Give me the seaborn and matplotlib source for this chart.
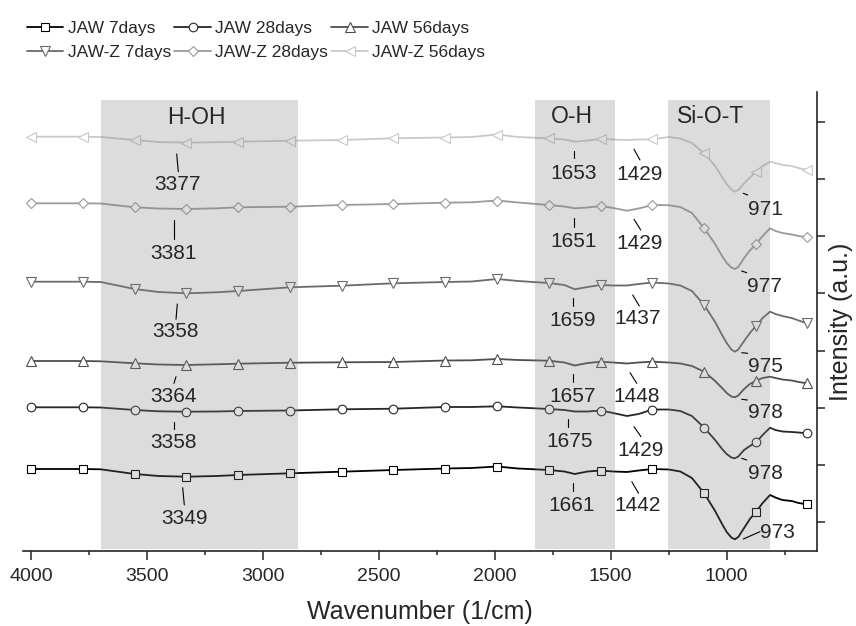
import numpy as np
import pandas as pd
import matplotlib
matplotlib.use("Agg")
import matplotlib.pyplot as plt
from matplotlib.lines import Line2D
import seaborn as sns

# ---------------- data ----------------
wavenumber = [4000, 3777, 3700, 3553, 3450, 3330, 3200, 3107, 2883, 2660, 2437, 2213,
              2100, 1990, 1900, 1767, 1700, 1655, 1600, 1543, 1490, 1430, 1380, 1320,
              1250, 1200, 1150, 1097, 1050, 1020, 1000, 980, 965, 950, 925, 900, 873,
              845, 813, 790, 760, 720, 690, 654]

jaw_7 = [157.0, 157.0, 156.7, 152.0, 150.0, 149.3, 150.0, 151.0, 152.7, 154.3, 156.0, 157.5,
         158.0, 159.5, 157.5, 156.0, 154.5, 152.0, 154.5, 155.5, 154.5, 154.0, 155.5, 157.0,
         156.5, 154.5, 148.0, 132.7, 115.0, 102.0, 94.0, 88.5, 86.7, 89.0, 98.0, 107.0, 114.3,
         123.0, 131.0, 128.5, 126.0, 125.0, 123.0, 121.7]
jaw_28 = [218.7, 218.7, 218.5, 216.0, 214.7, 214.3, 214.5, 215.0, 215.5, 216.7, 217.3, 219.0,
          219.0, 219.7, 218.5, 217.0, 216.0, 214.5, 214.5, 215.5, 213.0, 210.0, 212.0, 216.5,
          216.5, 215.0, 210.0, 198.3, 186.0, 177.0, 172.0, 168.5, 167.7, 169.5, 176.0, 180.0, 183.7,
          191.0, 198.3, 196.0, 194.5, 194.0, 193.5, 192.7]
jaw_56 = [265.0, 265.0, 264.7, 262.7, 261.5, 261.0, 261.7, 262.3, 263.3, 263.7, 264.0, 265.5,
          265.7, 267.0, 266.0, 265.3, 263.5, 260.5, 263.0, 264.3, 263.5, 262.5, 263.5, 264.3,
          263.5, 262.5, 260.0, 254.3, 245.0, 238.0, 233.0, 229.5, 228.7, 230.5, 237.0, 242.0, 245.3,
          248.0, 249.3, 248.0, 246.5, 245.5, 244.0, 242.7]
jawz_7 = [344.3, 344.3, 344.0, 337.0, 334.0, 332.7, 333.7, 335.0, 338.7, 340.3, 342.7, 344.0,
          344.5, 347.0, 345.0, 343.0, 341.0, 336.7, 339.0, 341.0, 340.5, 340.5, 342.0, 343.5,
          342.5, 340.5, 335.0, 321.0, 304.0, 291.0, 283.0, 276.5, 274.3, 276.5, 285.0, 293.0, 300.3,
          308.0, 314.3, 312.0, 310.0, 308.0, 305.5, 302.7]
jawz_28 = [422.7, 422.7, 422.5, 418.7, 417.5, 417.0, 417.7, 418.7, 419.3, 421.0, 422.0, 423.3,
           423.7, 425.5, 423.5, 421.0, 419.5, 417.7, 418.5, 420.0, 418.0, 415.3, 417.5, 421.0,
           420.8, 419.0, 413.0, 397.7, 382.0, 370.0, 363.0, 358.5, 357.0, 359.0, 368.0, 375.5, 382.0,
           390.0, 397.7, 395.0, 393.0, 391.5, 390.0, 388.7]
jawz_56 = [489.3, 489.3, 489.0, 486.0, 484.0, 483.3, 483.8, 484.3, 485.3, 486.0, 487.7, 488.5,
           489.0, 491.5, 489.0, 487.7, 486.5, 484.3, 485.5, 487.0, 486.5, 486.0, 486.5, 486.7,
           489.0, 487.5, 483.0, 472.7, 460.0, 449.0, 442.0, 436.5, 434.3, 436.0, 442.5, 448.5, 454.3,
           460.0, 464.3, 463.0, 461.0, 460.0, 458.0, 456.0]

series_names = ["JAW 7days", "JAW 28days", "JAW 56days",
                "JAW-Z 7days", "JAW-Z 28days", "JAW-Z 56days"]
series_values = [jaw_7, jaw_28, jaw_56, jawz_7, jawz_28, jawz_56]

peak_labels = [
    ["3349", "1661", "1442", "973"],
    ["3358", "1675", "1429", "978"],
    ["3364", "1657", "1448", "978"],
    ["3358", "1659", "1437", "975"],
    ["3381", "1651", "1429", "977"],
    ["3377", "1653", "1429", "971"],
]

band_names = ["H-OH", "O-H", "Si-O-T"]
band_ranges = [(3700, 2850), (1825, 1480), (1255, 815)]

x_ticks = [4000, 3500, 3000, 2500, 2000, 1500, 1000]

# ---------------- layout / style ----------------
colors = ["#000000", "#262626", "#4e4e4e", "#6a6a6a", "#9a9a9a", "#c9c9c9"]
markers = ["s", "o", "^", "v", "D", "<"]
msizes = [5.5, 6.2, 7.0, 7.0, 5.2, 7.0]

# text position (x, baseline y) and leader segment (x1, y1, x2, y2) per label
label_layout = [
    [((3336, 102.5), (3345.8, 138.3, 3338.9, 121.0)),
     ((1668, 115.2), (1664.1, 143.3, 1664.1, 135.3)),
     ((1385, 115.2), (1409.2, 144.3, 1380.3, 132.7)),
     ((782, 87.8), (928.4, 87.0, 856.4, 94.3))],
    [((3386, 177.8), (3383.4, 204.3, 3383.4, 196.7)),
     ((1679, 179.2), (1683.1, 206.7, 1683.1, 198.7)),
     ((1371, 170.2), (1399.7, 199.3, 1369.6, 189.3)),
     ((835, 146.8), (935.3, 167.7, 913.8, 166.0))],
    [((3386, 223.5), (3374.7, 249.3, 3383.4, 242.7)),
     ((1664, 224.2), (1661.5, 251.7, 1661.5, 243.7)),
     ((1388, 224.2), (1417.0, 253.3, 1388.1, 242.7)),
     ((835, 207.8), (935.3, 226.7, 911.2, 226.0))],
    [((3375, 289.2), (3369.1, 322.0, 3374.7, 306.7)),
     ((1664, 300.2), (1661.5, 327.7, 1661.5, 320.0)),
     ((1385, 301.8), (1405.3, 331.0, 1376.8, 320.0)),
     ((835, 253.5), (935.3, 273.3, 909.4, 272.7))],
    [((3386, 366.8), (3383.4, 406.0, 3383.4, 386.7)),
     ((1661, 379.5), (1657.2, 407.7, 1657.2, 399.3)),
     ((1374, 376.8), (1399.7, 406.7, 1370.9, 396.0)),
     ((838, 334.5), (935.3, 355.0, 913.8, 353.3))],
    [((3367, 435.8), (3371.7, 472.0, 3364.8, 454.3)),
     ((1661, 446.8), (1657.2, 475.0, 1657.2, 467.7)),
     ((1374, 445.8), (1399.7, 476.7, 1373.9, 466.0)),
     ((835, 411.2), (928.4, 432.7, 909.4, 431.0))],
]
band_label_pos = [(3288, 501.7), (1668, 502.7), (1069, 502.7)]

sns.set_style("white")
plt.rcParams["font.family"] = ["Liberation Sans", "DejaVu Sans"]
plt.rcParams["axes.linewidth"] = 1.2

W, H = 856, 626
fig = plt.figure(figsize=(W / 100, H / 100), dpi=100)
ax = fig.add_axes([23 / W, 75.3 / H, 793.7 / W, 458.7 / H])

x_arr = np.array(wavenumber, dtype=float)
mark_idx = [int(np.argmin(np.abs(x_arr - m))) for m in np.linspace(x_arr[0], x_arr[-1], 16)]

handles = []
for name, vals, c, m, ms in zip(series_names, series_values, colors, markers, msizes):
    df = pd.DataFrame({"Wavenumber": wavenumber, "Intensity": vals})
    sns.lineplot(data=df, x="Wavenumber", y="Intensity", ax=ax, sort=False,
                 estimator=None, color=c, lw=1.3, marker=m, markersize=ms,
                 markerfacecolor="white", markeredgecolor=c, markeredgewidth=0.8,
                 markevery=mark_idx, zorder=2)
    handles.append(Line2D([], [], color=c, lw=1.3, marker=m, markersize=ms,
                          markerfacecolor="white", markeredgecolor=c,
                          markeredgewidth=0.8))

ax.set_xlim(4034.5, 611.9)
ax.set_ylim(75.3, 534.0)

for (lo, hi) in band_ranges:
    ax.axvspan(hi, lo, ymin=0.004, ymax=0.983, color="#808080", alpha=0.27,
               lw=0, zorder=3)
for name, (bx, by) in zip(band_names, band_label_pos):
    ax.text(bx, by, name, ha="center", va="baseline", fontsize=16.5, zorder=5)

for labs, lays in zip(peak_labels, label_layout):
    for lab, ((tx, ty), (x1, y1, x2, y2)) in zip(labs, lays):
        ax.plot([x1, x2], [y1, y2], color="black", lw=0.8, zorder=5)
        ax.text(tx, ty, lab, ha="center", va="baseline", fontsize=15, zorder=5)

# axes styling
ax.spines["left"].set_visible(False)
ax.spines["top"].set_visible(False)
ax.set_xticks(x_ticks)
ax.set_xticks(np.arange(3750, 700, -500), minor=True)
ax.tick_params(axis="x", which="major", direction="out", length=6.7, width=1.1,
               labelsize=14, pad=6, bottom=True)
ax.tick_params(axis="x", which="minor", direction="out", length=3.2, width=1.1,
               bottom=True)
ax.yaxis.tick_right()
ax.set_yticks(np.arange(103.7, 510, 57.23))
ax.tick_params(axis="y", which="both", direction="out", length=6, width=1.1,
               labelright=False, labelleft=False, left=False, right=True)
ax.yaxis.set_label_position("right")
ax.set_xlabel("Wavenumber (1/cm)", fontsize=18, labelpad=10.5)
ax.set_ylabel("Intensity (a.u.)", fontsize=18, labelpad=3)

order = [0, 3, 1, 4, 2, 5]
fig.legend([handles[i] for i in order], [series_names[i] for i in order],
           ncol=3, loc="upper left", bbox_to_anchor=(27 / W, 1 - 21 / H),
           frameon=False, fontsize=12.5, handlelength=2.1, handletextpad=0.24,
           columnspacing=0.2, labelspacing=0.5, borderpad=0, borderaxespad=0)

fig.savefig("out.png", dpi=100)
